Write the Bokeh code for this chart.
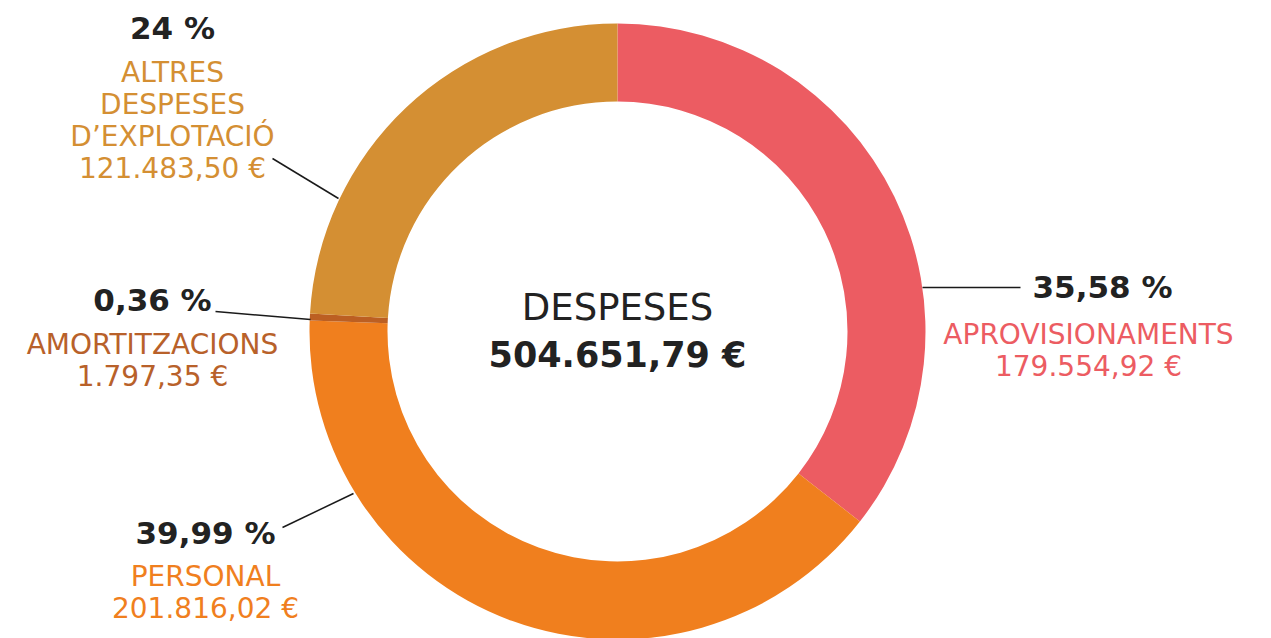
import math
from bokeh.plotting import figure
from bokeh.models import Range1d
from bokeh.core.properties import value
from bokeh.embed import file_html
from bokeh.resources import INLINE

# ---- data ----
categories = ["APROVISIONAMENTS", "PERSONAL", "AMORTITZACIONS", "ALTRES\nDESPESES\nD\u2019EXPLOTACI\u00d3"]
amounts = [179554.92, 201816.02, 1797.35, 121483.50]
pct_labels = ["35,58 %", "39,99 %", "0,36 %", "24 %"]
amount_labels = ["179.554,92 \u20ac", "201.816,02 \u20ac", "1.797,35 \u20ac", "121.483,50 \u20ac"]
total_title = "DESPESES"
total_label = "504.651,79 \u20ac"

colors = ["#EC5C62", "#F07F1E", "#BC5F22", "#D48F33"]
text_colors = ["#EC5C62", "#F07F1E", "#B8612A", "#D48F33"]

W, H = 1271, 638
def X(px):
    return px
def Y(py):
    return H - py

p = figure(width=W, height=H, output_backend="svg", toolbar_location=None,
           x_range=Range1d(0, W), y_range=Range1d(0, H), min_border=0)
p.axis.visible = False
p.grid.visible = False
p.outline_line_color = None
p.background_fill_color = "white"
p.border_fill_color = "white"

cx, cy = X(617), Y(331)
total = sum(amounts)
start = math.pi / 2
starts, ends = [], []
for a in amounts:
    sweep = a / total * 2 * math.pi
    starts.append(start)
    ends.append(start - sweep)
    start -= sweep

p.annular_wedge(x=[cx] * 4, y=[cy] * 4, inner_radius=230, outer_radius=308,
                inner_radius_units="screen", outer_radius_units="screen",
                start_angle=starts, end_angle=ends, direction="clock",
                fill_color=colors, line_color=None)

# leader lines (page coords)
leaders = [((922, 287), (1020, 287)),
           ((353, 493), (282, 527)),
           ((310, 319), (215, 311)),
           ((338, 198), (272, 158))]
for (a, b) in leaders:
    p.line([X(a[0]), X(b[0])], [Y(a[1]), Y(b[1])], line_color="#1a1a1a", line_width=1.5)

font = "DejaVu Sans"
# layout: pct position, label line positions (page coords)
pct_pos = [(1102, 286), (205, 532), (152, 299), (172, 27)]
lab_pos = [(1088, 334), (205, 576), (152, 344), (172, 72)]
line_h = 32

for i in range(4):
    p.text(x=[X(pct_pos[i][0])], y=[Y(pct_pos[i][1])], text=[pct_labels[i]],
           text_font=value(font), text_font_style="bold", text_font_size="31px",
           text_color="#222222", text_align="center", text_baseline="middle")
    lines = categories[i].split("\n") + [amount_labels[i]]
    for j, t in enumerate(lines):
        p.text(x=[X(lab_pos[i][0])], y=[Y(lab_pos[i][1] + j * line_h)], text=[t],
               text_font=value(font), text_font_size="28px",
               text_color=text_colors[i], text_align="center", text_baseline="middle")

p.text(x=[cx], y=[Y(307)], text=[total_title], text_font=value(font),
       text_font_size="37px", text_color="#222222", text_align="center", text_baseline="middle")
p.text(x=[cx], y=[Y(354)], text=[total_label], text_font=value(font), text_font_style="bold",
       text_font_size="35px", text_color="#222222", text_align="center", text_baseline="middle")

open("out.html", "w").write(file_html(p, INLINE))
